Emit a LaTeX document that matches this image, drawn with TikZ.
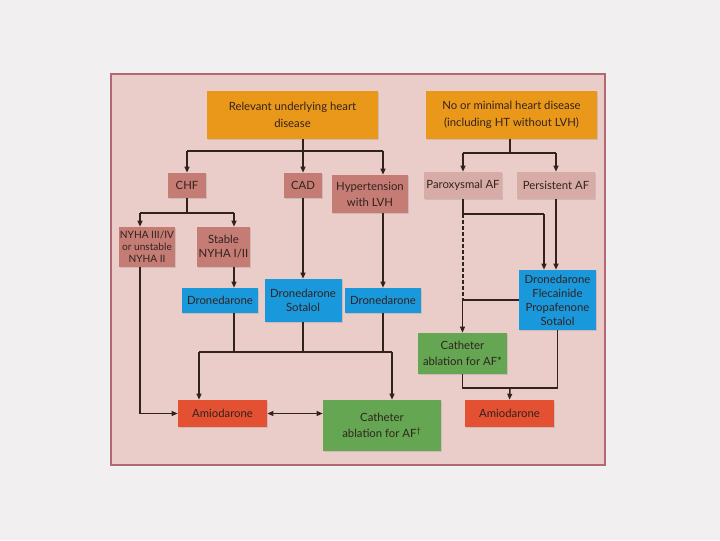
\documentclass[tikz,border=0pt]{standalone}
\usepackage{fontspec}
\setmainfont{Lato}
\usepackage{tikz}
\usetikzlibrary{arrows.meta,shadows}

\definecolor{pagegray}{RGB}{241,239,239}
\definecolor{panelfill}{RGB}{234,205,201}
\definecolor{paneledge}{RGB}{178,104,116}
\definecolor{boxorange}{RGB}{234,152,26}
\definecolor{boxrose}{RGB}{196,124,116}
\definecolor{boxpale}{RGB}{216,172,166}
\definecolor{boxblue}{RGB}{26,152,220}
\definecolor{boxgreen}{RGB}{100,166,82}
\definecolor{boxred}{RGB}{228,80,50}
\definecolor{inkdark}{RGB}{50,34,30}

\tikzset{
  box/.style={rectangle, inner sep=0pt, align=center, text=inkdark,
    font=\fontsize{8.5}{10.5}\selectfont,
    drop shadow={shadow xshift=0.8pt, shadow yshift=-0.8pt, opacity=0.25}},
  orangebox/.style={box, fill=boxorange, font=\fontsize{8.5}{13}\selectfont},
  rosebox/.style={box, fill=boxrose},
  palebox/.style={box, fill=boxpale},
  bluebox/.style={box, fill=boxblue},
  greenbox/.style={box, fill=boxgreen},
  redbox/.style={box, fill=boxred},
  ln/.style={draw=inkdark, line width=1.1pt},
  arr/.style={ln, -{Triangle[length=4.5pt,width=3.6pt]}},
  darr/.style={ln, {Triangle[length=4.5pt,width=3.6pt]}-{Triangle[length=4.5pt,width=3.6pt]}},
}

\begin{document}
\begin{tikzpicture}[x=0.75pt,y=0.75pt,yscale=-1,xscale=1]
%set diagram to the page size
\useasboundingbox[fill=pagegray] (0,0) rectangle (720,540);

%Panel
\draw[fill=panelfill, draw=paneledge, line width=1pt] (111,74) rectangle (605,465);

%Top boxes
\node[orangebox, minimum width=171*0.75pt, minimum height=48*0.75pt] (rel) at (292.5,115) {Relevant underlying heart\\disease};
\node[orangebox, minimum width=171*0.75pt, minimum height=48*0.75pt] (nomin) at (511.5,115) {No or minimal heart disease\\(including HT without LVH)};

%Left branch
\node[rosebox, minimum width=38*0.75pt, minimum height=25*0.75pt] (chf) at (187,185.5) {CHF};
\node[rosebox, minimum width=38*0.75pt, minimum height=25*0.75pt] (cad) at (303,185.5) {CAD};
\node[rosebox, minimum width=76*0.75pt, minimum height=38*0.75pt, font=\fontsize{8.5}{12}\selectfont] (htn) at (370,194) {Hypertension\\with LVH};
\node[rosebox, minimum width=56*0.75pt, minimum height=40*0.75pt, font=\fontsize{7.6}{9}\selectfont] (nyha) at (147,247) {NYHA III/IV\\or unstable\\NYHA II};
\node[rosebox, minimum width=53*0.75pt, minimum height=40*0.75pt] (stable) at (223.5,247) {Stable\\NYHA I/II};
\node[bluebox, minimum width=76*0.75pt, minimum height=25*0.75pt] (dronL) at (220,300.5) {Dronedarone};
\node[bluebox, minimum width=77*0.75pt, minimum height=43*0.75pt] (dronsot) at (303,300.5) {Dronedarone\\Sotalol};
\node[bluebox, minimum width=76*0.75pt, minimum height=25*0.75pt] (dronR) at (383,300.5) {Dronedarone};
\node[redbox, minimum width=89*0.75pt, minimum height=27*0.75pt] (amioL) at (222.5,413.5) {Amiodarone};
\node[greenbox, minimum width=118*0.75pt, minimum height=51*0.75pt, font=\fontsize{8.5}{12}\selectfont] (cathL) at (382,425.5) {Catheter\\ablation for AF\textsuperscript{\textdagger}};

%Right branch
\node[palebox, minimum width=78*0.75pt, minimum height=27*0.75pt] (parox) at (463,185.5) {Paroxysmal AF};
\node[palebox, minimum width=78*0.75pt, minimum height=27*0.75pt] (persist) at (556,185.5) {Persistent AF};
\node[bluebox, minimum width=77*0.75pt, minimum height=60*0.75pt] (dfps) at (557.5,300) {Dronedarone\\Flecainide\\Propafenone\\Sotalol};
\node[greenbox, minimum width=89*0.75pt, minimum height=41*0.75pt, font=\fontsize{8.5}{11.5}\selectfont] (cathR) at (462.5,353.5) {Catheter\\ablation for AF*};
\node[redbox, minimum width=89*0.75pt, minimum height=27*0.75pt] (amioR) at (509.5,413.5) {Amiodarone};

%Bends
\coordinate (j1) at (303,151);
\coordinate (nyx) at (140,213);
\coordinate (stx) at (234,213);
\coordinate (j3) at (199,352);
\coordinate (j4) at (392,352);
\coordinate (k1) at (510,153);
\coordinate (k2) at (463,214);
\coordinate (k3) at (544,214);
\coordinate (k4) at (510,388);

%Connectors left
\draw[ln] (rel.south -| j1) -- (j1);
\draw[ln] (chf.north |- j1) -- (dronR.north |- j1);
\draw[arr] (chf.north |- j1) -- (chf.north);
\draw[arr] (j1) -- (cad.north);
\draw[arr] (dronR.north |- j1) -- (dronR.north |- htn.north);
\draw[ln] (chf.south) -- (chf.south |- nyx);
\draw[ln] (nyx) -- (stx);
\draw[arr] (nyx) -- (nyx |- nyha.north);
\draw[arr] (stx) -- (stx |- stable.north);
\draw[arr] (stx |- stable.south) -- (stx |- dronL.north);
\draw[arr] (cad.south) -- (cad.south |- dronsot.north);
\draw[arr] (dronR.north |- htn.south) -- (dronR.north);
\draw[ln] (stx |- dronL.south) -- (stx |- j3);
\draw[ln] (dronsot.south) -- (dronsot.south |- j3);
\draw[ln] (dronR.south) -- (dronR.south |- j3);
\draw[ln] (j3) -- (j4);
\draw[arr] (j3) -- (j3 |- amioL.north);
\draw[arr] (j4) -- (j4 |- cathL.north);
\draw[arr] (nyx |- nyha.south) |- (amioL.west);
\draw[darr] (amioL.east) -- (amioL.east -| cathL.west);

%Connectors right
\draw[ln] (nomin.south -| k1) -- (k1);
\draw[ln] (parox.north |- k1) -- (persist.north |- k1);
\draw[arr] (parox.north |- k1) -- (parox.north);
\draw[arr] (persist.north |- k1) -- (persist.north);
\draw[ln] (parox.south) -- (k2) -- (k3);
\draw[arr] (k3) -- (k3 |- dfps.north);
\draw[arr] (persist.south) -- (persist.south |- dfps.north);
\draw[ln, dash pattern=on 3pt off 1.5pt] (k2) -- (k2 |- dfps.west);
\draw[arr] (dfps.west) -| (cathR.north);
\draw[ln] (cathR.south) |- (dfps.south |- k4) -- (dfps.south);
\draw[arr] (k4) -- (amioR.north);

\end{tikzpicture}
\end{document}
